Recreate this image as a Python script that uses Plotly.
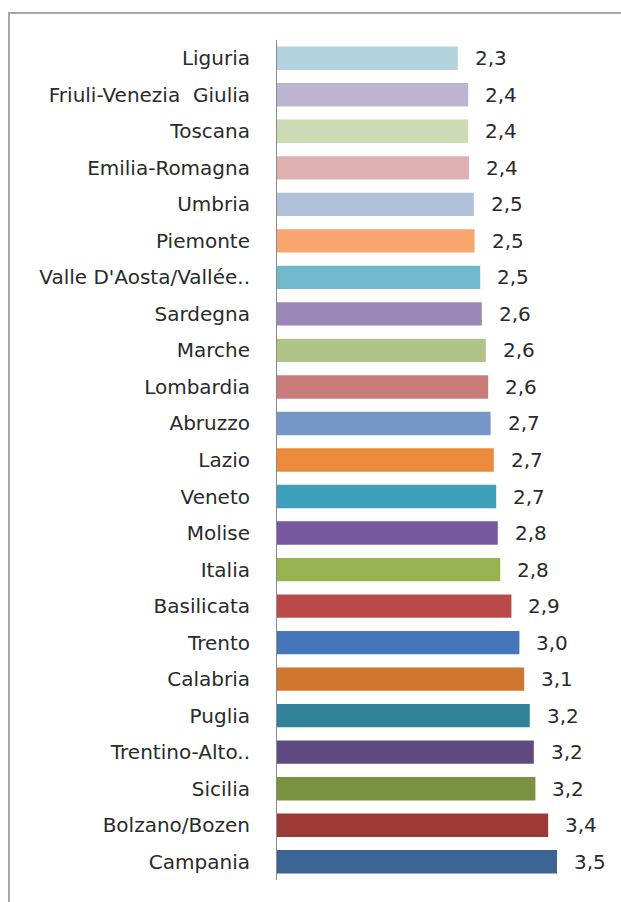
import plotly.graph_objects as go

regions = [
    "Liguria", "Friuli-Venezia  Giulia", "Toscana", "Emilia-Romagna", "Umbria",
    "Piemonte", "Valle D'Aosta/Vallée..", "Sardegna", "Marche", "Lombardia",
    "Abruzzo", "Lazio", "Veneto", "Molise", "Italia", "Basilicata", "Trento",
    "Calabria", "Puglia", "Trentino-Alto..", "Sicilia", "Bolzano/Bozen", "Campania",
]
values = [
    2.26, 2.39, 2.39, 2.40, 2.46,
    2.47, 2.54, 2.56, 2.61, 2.64,
    2.67, 2.71, 2.74, 2.76, 2.79, 2.93, 3.03,
    3.09, 3.16, 3.21, 3.23, 3.39, 3.50,
]
colors = [
    "#B3D2E0", "#BDB4D0", "#CCDBB4", "#DEB0AF", "#B0C0DA",
    "#F9A66E", "#70B8CC", "#9988B8", "#AFC486", "#C87D7B",
    "#7796C8", "#EE8A3C", "#3EA0BB", "#7859A0", "#98B352", "#B94A47", "#4576BA",
    "#D0762E", "#318199", "#5E4A80", "#7A9140", "#9C3A38", "#3C6596",
]
labels = [f"{v:.1f}".replace(".", ",") for v in values]

FONT = "DejaVu Sans"
TXT = "#2a2a2a"

fig = go.Figure()
fig.add_trace(go.Bar(
    x=values, y=regions, orientation="h",
    marker=dict(color=colors, line=dict(width=0)),
    showlegend=False, hoverinfo="skip",
))

for v, r, t in zip(values, regions, labels):
    fig.add_annotation(
        x=v, y=r, xref="x", yref="y", text=t, showarrow=False,
        xanchor="left", yanchor="middle", xshift=15,
        font=dict(family=FONT, size=20, color=TXT),
    )

W, H = 621, 902
ML, MR, MT, MB = 277, 24, 40, 22
pw = W - ML - MR
ph = H - MT - MB

def px_x(p):
    return (p - ML) / pw

def px_y(p):
    return (H - MB - p) / ph

fig.add_shape(
    type="rect", xref="paper", yref="paper",
    x0=px_x(9), x1=px_x(660), y0=px_y(940), y1=px_y(13),
    line=dict(color="#A6A6A6", width=2), fillcolor="rgba(0,0,0,0)",
    layer="below",
)

fig.update_layout(
    width=W, height=H, autosize=False,
    margin=dict(l=ML, r=MR, t=MT, b=MB, pad=0),
    paper_bgcolor="white", plot_bgcolor="white",
    bargap=0.36,
    font=dict(family=FONT, size=20, color=TXT),
    xaxis=dict(range=[0, 4], visible=False, fixedrange=True),
    yaxis=dict(
        autorange="reversed", showline=True, linecolor="#8C8C8C", linewidth=1,
        ticks="", showgrid=False, zeroline=False, ticklabelstandoff=22,
        tickfont=dict(family=FONT, size=20, color=TXT), fixedrange=True,
    ),
)

fig.write_html(
    "out.html",
    config={"displayModeBar": False},
    post_script="document.body.style.margin='0';document.body.style.overflow='hidden';",
)
